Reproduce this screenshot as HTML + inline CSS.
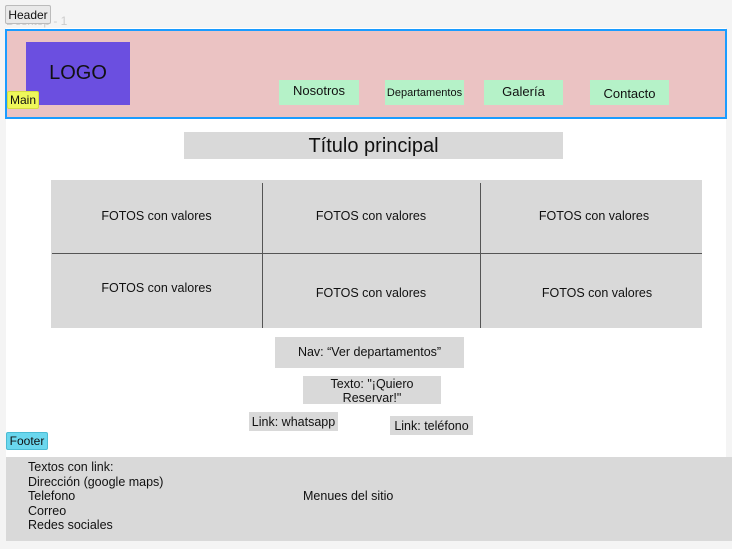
<!DOCTYPE html>
<html><head><meta charset="utf-8"><style>
*{margin:0;padding:0;box-sizing:border-box}
body{width:732px;height:549px;background:#f4f4f4;position:relative;overflow:hidden;font-family:"Liberation Sans",sans-serif;color:#111}
.a{position:absolute}
.c{display:flex;align-items:center;justify-content:center;text-align:center}
.g{background:#d9d9d9}
.n{background:#b5f2c8;font-size:13px}
.t{font-size:12.5px}
</style></head><body>
<div class="a" style="left:6px;top:28px;width:720px;height:513px;background:#fff"></div>
<div class="a" style="left:6px;top:14px;font-size:12px;color:#ccc">Desktop - 1</div>
<div class="a c" style="left:5px;top:5px;width:46px;height:19px;background:#e9e9e9;border:1px solid #bbb;border-radius:2px;font-size:12px">Header</div>
<div class="a" style="left:5px;top:29px;width:722px;height:90px;background:#ebc3c3;border:2px solid #1a9cff"></div>
<div class="a c" style="left:26px;top:42px;width:104px;height:63px;background:#6b4fe0;font-size:20px">LOGO</div>
<div class="a c" style="left:7px;top:91px;width:32px;height:18px;background:#eef75a;border:1px solid #d6dd40;border-radius:2px;font-size:12px">Main</div>
<div class="a c n" style="left:279px;top:80px;width:80px;height:25px;padding-bottom:4px">Nosotros</div>
<div class="a c n" style="left:385px;top:80px;width:79px;height:25px;font-size:11px;padding-top:1px">Departamentos</div>
<div class="a c n" style="left:484px;top:80px;width:79px;height:25px;padding-bottom:2px">Galería</div>
<div class="a c n" style="left:590px;top:80px;width:79px;height:25px;padding-top:2px">Contacto</div>
<div class="a c g" style="left:184px;top:132px;width:379px;height:27px;font-size:20px;padding-top:2px">Título principal</div>
<div class="a g" style="left:51px;top:180px;width:651px;height:148px"></div>
<div class="a" style="left:262px;top:183px;width:1px;height:145px;background:#555"></div>
<div class="a" style="left:480px;top:183px;width:1px;height:145px;background:#555"></div>
<div class="a" style="left:52px;top:253px;width:650px;height:1px;background:#555"></div>
<div class="a c t" style="left:51px;top:207px;width:211px;height:18px">FOTOS con valores</div>
<div class="a c t" style="left:262px;top:207px;width:218px;height:18px">FOTOS con valores</div>
<div class="a c t" style="left:480px;top:207px;width:228px;height:18px">FOTOS con valores</div>
<div class="a c t" style="left:51px;top:279px;width:211px;height:18px">FOTOS con valores</div>
<div class="a c t" style="left:262px;top:284px;width:218px;height:18px">FOTOS con valores</div>
<div class="a c t" style="left:480px;top:284px;width:234px;height:18px">FOTOS con valores</div>
<div class="a c g t" style="left:275px;top:337px;width:189px;height:31px;padding-bottom:1px">Nav: “Ver departamentos”</div>
<div class="a c g t" style="left:303px;top:376px;width:138px;height:28px;line-height:14px;padding-top:2px">Texto: "¡Quiero<br>Reservar!"</div>
<div class="a c g t" style="left:249px;top:412px;width:89px;height:19px">Link: whatsapp</div>
<div class="a c g t" style="left:390px;top:416px;width:83px;height:19px">Link: teléfono</div>
<div class="a c" style="left:6px;top:432px;width:42px;height:18px;background:#6ad7ee;border:1px solid #4bbbd3;border-radius:2px;font-size:12px">Footer</div>
<div class="a g" style="left:6px;top:457px;width:726px;height:84px"></div>
<div class="a t" style="left:28px;top:460px;line-height:14.5px">Textos con link:<br>Dirección (google maps)<br>Telefono<br>Correo<br>Redes sociales</div>
<div class="a t" style="left:303px;top:489px">Menues del sitio</div>
</body></html>
